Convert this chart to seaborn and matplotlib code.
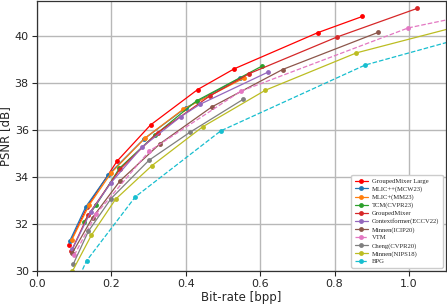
import pandas as pd
import matplotlib.pyplot as plt
import seaborn as sns

# values
LABELS = [
    "GroupedMixer Large", "MLIC++(MCW23)", "MLIC+(MM23)", "TCM(CVPR23)",
    "GroupedMixer", "Contextformer(ECCV22)", "Minnen(ICIP20)", "VTM",
    "Cheng(CVPR20)", "Minnen(NIPS18)", "BPG",
]

gm_large_bpp = [0.085, 0.135, 0.215, 0.305, 0.432, 0.53, 0.755, 0.875]
gm_large_psnr = [31.1, 32.75, 34.68, 36.22, 37.73, 38.61, 40.15, 40.84]

mlicpp_bpp = [0.088, 0.131, 0.192, 0.287, 0.40, 0.547]
mlicpp_psnr = [31.29, 32.74, 34.11, 35.62, 36.95, 38.23]

mlicp_bpp = [0.093, 0.14, 0.199, 0.29, 0.393, 0.557]
mlicp_psnr = [31.32, 32.81, 34.18, 35.66, 36.89, 38.22]

tcm_bpp = [0.126, 0.159, 0.221, 0.317, 0.429, 0.604]
tcm_psnr = [32.1, 32.82, 34.37, 35.79, 37.25, 38.72]

gm_bpp = [0.092, 0.137, 0.223, 0.324, 0.465, 0.571, 0.806, 1.022]
gm_psnr = [30.85, 32.38, 34.34, 35.89, 37.46, 38.41, 39.96, 41.18]

ctxf_bpp = [0.095, 0.144, 0.199, 0.283, 0.386, 0.438, 0.621]
ctxf_psnr = [30.94, 32.52, 33.77, 35.29, 36.57, 37.1, 38.47]

minnen20_bpp = [0.095, 0.149, 0.223, 0.331, 0.47, 0.66, 0.917]
minnen20_psnr = [30.78, 32.28, 33.84, 35.43, 36.99, 38.58, 40.16]

vtm_bpp = [0.10, 0.158, 0.301, 0.548, 0.998, 1.30]
vtm_psnr = [30.68, 32.42, 35.1, 37.66, 40.35, 41.35]

cheng_bpp = [0.097, 0.138, 0.199, 0.301, 0.411, 0.555]
cheng_psnr = [30.29, 31.7, 33.09, 34.72, 35.91, 37.32]

minnen18_bpp = [0.095, 0.146, 0.211, 0.308, 0.445, 0.614, 0.859, 1.25]
minnen18_psnr = [30.0, 31.53, 33.06, 34.48, 36.14, 37.7, 39.29, 40.9]

bpg_bpp = [0.10, 0.133, 0.264, 0.494, 0.882, 1.30]
bpg_psnr = [29.3, 30.44, 33.16, 35.97, 38.77, 40.6]

SERIES = [
    (gm_large_bpp, gm_large_psnr, "red", "-"),
    (mlicpp_bpp, mlicpp_psnr, "tab:blue", "-"),
    (mlicp_bpp, mlicp_psnr, "tab:orange", "-"),
    (tcm_bpp, tcm_psnr, "tab:green", "-"),
    (gm_bpp, gm_psnr, "tab:red", "-"),
    (ctxf_bpp, ctxf_psnr, "tab:purple", "-"),
    (minnen20_bpp, minnen20_psnr, "tab:brown", "-"),
    (vtm_bpp, vtm_psnr, "tab:pink", "--"),
    (cheng_bpp, cheng_psnr, "tab:gray", "-"),
    (minnen18_bpp, minnen18_psnr, "tab:olive", "-"),
    (bpg_bpp, bpg_psnr, "tab:cyan", "--"),
]

sns.set_style("ticks")

fig = plt.figure(figsize=(4.47, 3.05), dpi=100)
ax = fig.add_axes([0.083, 0.111, 0.915, 0.886])

for label, (bpp, psnr, color, ls) in zip(LABELS, SERIES):
    df = pd.DataFrame({"bpp": bpp, "psnr": psnr})
    sns.lineplot(
        data=df, x="bpp", y="psnr", ax=ax, sort=False,
        color=color, linestyle=ls, linewidth=0.9,
        marker="o", markersize=3.5, markeredgewidth=0,
        label=label,
    )

ax.set_xlim(0.0, 1.1)
ax.set_ylim(30, 41.5)
ax.set_xticks([0.0, 0.2, 0.4, 0.6, 0.8, 1.0])
ax.set_yticks([30, 32, 34, 36, 38, 40])
ax.grid(True, color="#b8b8b8", linewidth=1.0)
ax.tick_params(labelsize=8, length=3.5, width=0.8, pad=2.5)
for spine in ax.spines.values():
    spine.set_color("#333333")
    spine.set_linewidth(0.9)

ax.set_xlabel("Bit-rate [bpp]", fontsize=8.5, labelpad=1)
ax.set_ylabel("PSNR [dB]", fontsize=8.5, labelpad=2)

ax.legend(
    loc="lower right", prop={"family": "Liberation Serif", "size": 4.8},
    labelspacing=0.32, handlelength=2.0, handletextpad=0.6, borderpad=0.5,
    framealpha=1, edgecolor="#cccccc",
)

plt.savefig("out.png", dpi=100)
plt.close()
